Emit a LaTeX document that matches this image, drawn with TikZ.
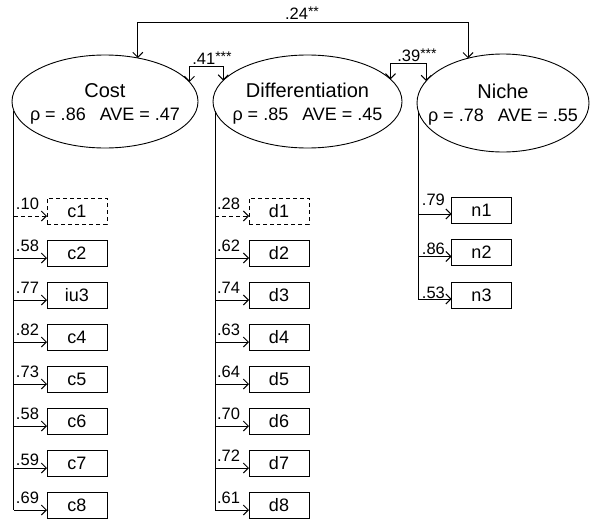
\documentclass[tikz,border=0pt]{standalone}
\usepackage{fontspec}
\setmainfont{Liberation Sans}
\usetikzlibrary{shapes.geometric,arrows.meta,calc}
\newcommand{\sigstars}[1]{\raisebox{2.5pt}{\fontsize{14}{14}\selectfont #1}}
\begin{document}
\begin{tikzpicture}[x=1pt,y=-1pt,
  every node/.style={inner sep=0pt, outer sep=0pt},
  ln/.style={line width=1pt, black},
  arr/.style={ln, -{Straight Barb[length=5pt,width=10pt,line width=1pt]}},
  factor/.style={draw, ellipse, line width=0.9pt},
  fname/.style={anchor=base, font=\fontsize{20}{23}\selectfont},
  fstat/.style={anchor=base, font=\fontsize{18}{22}\selectfont},
  ind/.style={draw, line width=0.9pt, minimum width=60pt, minimum height=26pt, font=\fontsize{18}{20}\selectfont},
  dsh/.style={dash pattern=on 4pt off 3pt},
  lab/.style={anchor=base west, font=\fontsize{16.5}{18}\selectfont, pos=0, xshift=2pt, yshift=7pt},
  corr/.style={anchor=base, font=\fontsize{16.5}{18}\selectfont}
]
\useasboundingbox (0,0) rectangle (591,519);

% factors
\node[factor, minimum width=186pt, minimum height=93pt] (cost) at (105,101.5) {};
\node[factor, minimum width=189pt, minimum height=93pt] (diff) at (307.5,101.5) {};
\node[factor, minimum width=172pt, minimum height=98pt] (niche) at (503,103) {};
\node[fname] (costn) at (105,97) {Cost};
\node[fstat] (costs) at (105,120) {ρ = .86\hspace{14pt}AVE = .47};
\node[fname] (diffn) at (307.5,97) {Differentiation};
\node[fstat] (diffs) at (307.5,120) {ρ = .85\hspace{14pt}AVE = .45};
\node[fname] (nichen) at (503,98) {Niche};
\node[fstat] (niches) at (503,121) {ρ = .78\hspace{14pt}AVE = .55};

% indicators
\foreach \i/\t [count=\k from 0] in {c1/c1,c2/c2,c3/iu3,c4/c4,c5/c5,c6/c6,c7/c7,c8/c8} {
  \node[ind] (\i) at (77,211+42*\k) {\t};
  \coordinate (\i t) at ([yshift=-5pt]\i.west);
}
\foreach \i [count=\k from 0] in {d1,d2,d3,d4,d5,d6,d7,d8} {
  \node[ind] (\i) at (279,211+42*\k) {\i};
  \coordinate (\i t) at ([yshift=-5pt]\i.west);
}
\foreach \i [count=\k from 0] in {n1,n2,n3} {
  \node[ind] (\i) at (481.5,210+42.5*\k) {\i};
  \coordinate (\i t) at ([yshift=-4pt]\i.west);
}
% dashed outlines for c1 and d1
\draw[white, line width=1.2pt] (c1.south west) rectangle (c1.north east);
\draw[dsh, line width=0.9pt] (c1.south west) rectangle (c1.north east);
\draw[white, line width=1.2pt] (d1.south west) rectangle (d1.north east);
\draw[dsh, line width=0.9pt] (d1.south west) rectangle (d1.north east);

% spines
\draw[ln] (cost.186) -- (cost.186 |- c8t);
\draw[ln] (diff.186) -- (diff.186 |- d8t);
\draw[ln] (niche.186) -- (niche.186 |- n3t);

% loadings
\draw[arr,dsh] (cost.186 |- c1t) -- (c1t) node[lab] {.10};
\draw[arr] (cost.186 |- c2t) -- (c2t) node[lab] {.58};
\draw[arr] (cost.186 |- c3t) -- (c3t) node[lab] {.77};
\draw[arr] (cost.186 |- c4t) -- (c4t) node[lab] {.82};
\draw[arr] (cost.186 |- c5t) -- (c5t) node[lab] {.73};
\draw[arr] (cost.186 |- c6t) -- (c6t) node[lab] {.58};
\draw[arr] (cost.186 |- c7t) -- (c7t) node[lab, yshift=-4pt] {.59};
\draw[arr] (cost.186 |- c8t) -- (c8t) node[lab] {.69};

\draw[arr,dsh] (diff.186 |- d1t) -- (d1t) node[lab] {.28};
\draw[arr] (diff.186 |- d2t) -- (d2t) node[lab] {.62};
\draw[arr] (diff.186 |- d3t) -- (d3t) node[lab] {.74};
\draw[arr] (diff.186 |- d4t) -- (d4t) node[lab] {.63};
\draw[arr] (diff.186 |- d5t) -- (d5t) node[lab] {.64};
\draw[arr] (diff.186 |- d6t) -- (d6t) node[lab] {.70};
\draw[arr] (diff.186 |- d7t) -- (d7t) node[lab] {.72};
\draw[arr] (diff.186 |- d8t) -- (d8t) node[lab] {.61};

\draw[arr] (niche.186 |- n1t) -- (n1t) node[lab, xshift=1.5pt, yshift=2pt] {.79};
\draw[arr] (niche.186 |- n2t) -- (n2t) node[lab, xshift=1.5pt, yshift=-5pt] {.86};
\draw[arr] (niche.186 |- n3t) -- (n3t) node[lab, xshift=1.5pt, yshift=-6pt] {.53};

% correlations
\coordinate (t24) at (302,22.5);
\draw[arr] (t24) -| (cost.53);
\draw[arr] (t24) -| (niche.128);
\node[corr] (l24) at (302,19.5) {.24\sigstars{**}};

\coordinate (t41) at (206,66);
\draw[arr] (t41) -| (cost.13);
\draw[arr] (t41) -| (diff.166);
\node[corr] (l41) at (212,64.5) {.41\sigstars{***}};

\coordinate (t39) at (408,63);
\draw[arr] (t39) -| (diff.15);
\draw[arr] (t39) -| (niche.164);
\node[corr] (l39) at (417,61.5) {.39\sigstars{***}};
\end{tikzpicture}
\end{document}
